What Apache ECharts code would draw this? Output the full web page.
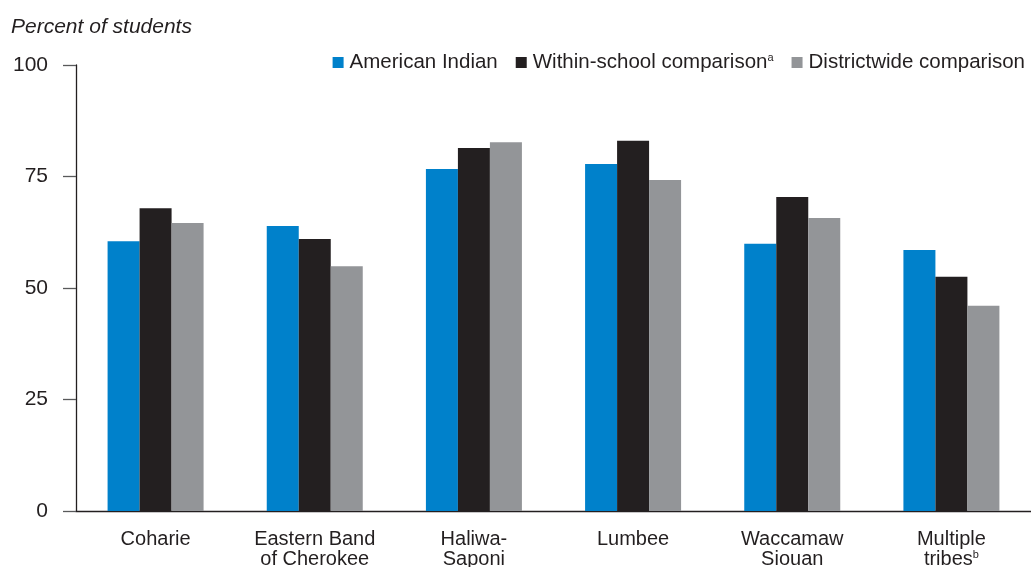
<!DOCTYPE html>
<html>
<head>
<meta charset="utf-8">
<script src="https://cdn.jsdelivr.net/npm/echarts@6/dist/echarts.min.js"></script>
<style>html,body{margin:0;padding:0;background:#fff}#c{width:1031px;height:567px}</style>
</head>
<body>
<div id="c"></div>
<script>
const categories = ['Coharie', 'Eastern Band\nof Cherokee', 'Haliwa-\nSaponi', 'Lumbee', 'Waccamaw\nSiouan', 'Multiple\ntribes{sup|b}'];
const americanIndian = [60.5, 63.9, 76.7, 77.8, 59.9, 58.5];
const withinSchool = [67.9, 61.0, 81.4, 83.0, 70.4, 52.5];
const districtwide = [64.6, 54.9, 82.7, 74.2, 65.7, 46.0];
const yTicks = [0, 25, 50, 75, 100];
const seriesNames = ['American Indian', 'Within-school comparison', 'Districtwide comparison'];

const FONT = '"Liberation Sans", Arial, sans-serif';
const TXT = '#231f20';
const chart = echarts.init(document.getElementById('c'), null, {renderer: 'canvas'});
const supStyle = {fontSize: 11, verticalAlign: 'top', color: TXT, fontFamily: FONT, padding: [0, 0, 8, 0]};
chart.setOption({
  animation: false,
  textStyle: {fontFamily: FONT, color: TXT},
  title: {
    text: 'Percent of students', left: 6, top: 12,
    textStyle: {fontFamily: FONT, fontStyle: 'italic', fontWeight: 'normal', fontSize: 21, color: TXT}
  },
  legend: {
    right: 1, top: 47, itemWidth: 11, itemHeight: 11, itemGap: 18, icon: 'rect',
    data: seriesNames,
    formatter: n => n === 'Within-school comparison' ? n + '{sup|a}' : n,
    textStyle: {fontFamily: FONT, fontSize: 20.5, color: TXT, padding: [0, 0, 0, 1], rich: {sup: supStyle}}
  },
  grid: {left: 76, right: 0, top: 65, bottom: 56, containLabel: false, outerBoundsMode: 'none'},
  xAxis: {
    type: 'category', data: categories,
    axisLine: {show: true, lineStyle: {color: TXT, width: 1.3}},
    axisTick: {show: false},
    axisLabel: {fontFamily: FONT, fontSize: 20, color: TXT, margin: 18, lineHeight: 20, interval: 0,
      rich: {sup: supStyle}}
  },
  yAxis: {
    type: 'value', min: 0, max: 100, interval: 25,
    splitLine: {show: false},
    axisLine: {show: true, lineStyle: {color: TXT, width: 1.3}},
    axisTick: {show: true, length: 13, lineStyle: {color: '#58595b', width: 1.3}},
    axisLabel: {fontFamily: FONT, fontSize: 21, color: TXT, margin: 28,
      formatter: v => yTicks.includes(v) ? String(v) : ''}
  },
  series: [
    {name: seriesNames[0], type: 'bar', data: americanIndian, barWidth: 32, barGap: '0%', itemStyle: {color: '#0081cb'}},
    {name: seriesNames[1], type: 'bar', data: withinSchool, barWidth: 32, barGap: '0%', itemStyle: {color: '#231f20'}},
    {name: seriesNames[2], type: 'bar', data: districtwide, barWidth: 32, barGap: '0%', itemStyle: {color: '#939598'}}
  ]
});
</script>
</body>
</html>
